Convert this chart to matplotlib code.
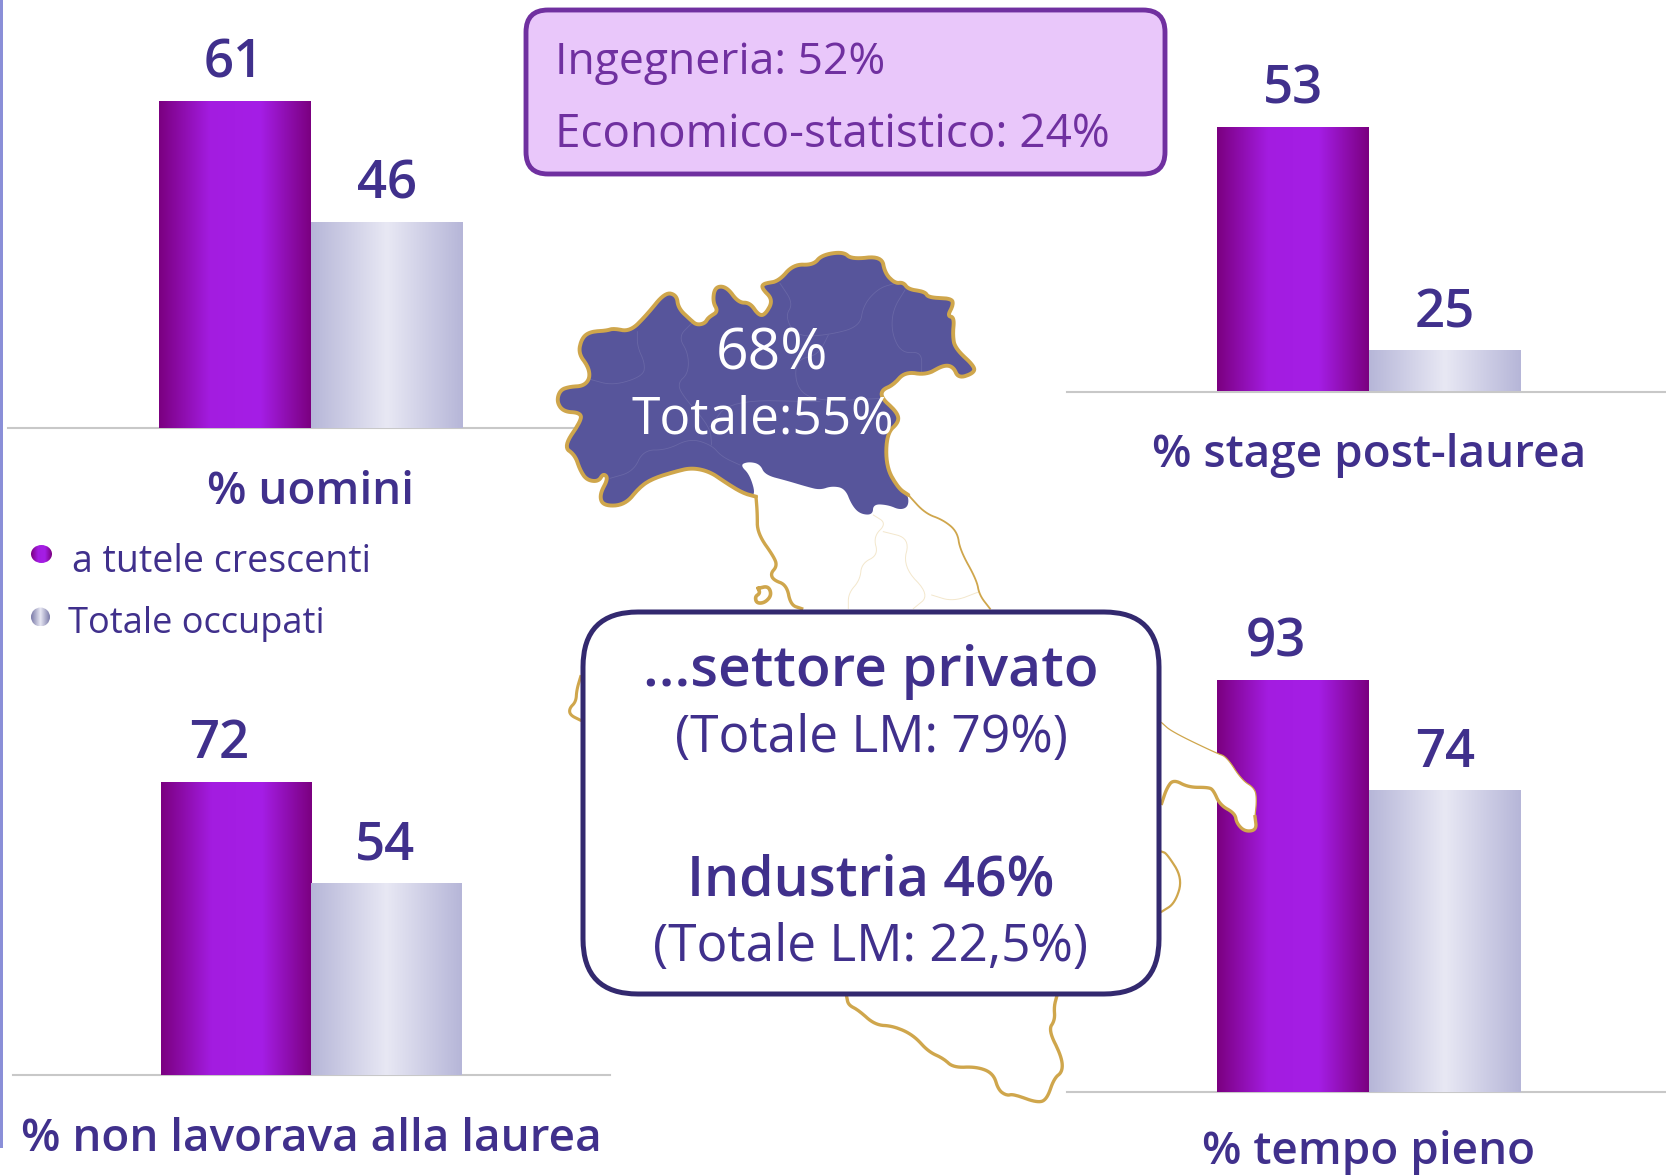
import numpy as np
import matplotlib
matplotlib.use("Agg")
import matplotlib.pyplot as plt
from matplotlib.colors import LinearSegmentedColormap
from matplotlib.patches import FancyBboxPatch, Ellipse, Polygon, Rectangle

plt.rcParams['font.family'] = ['Open Sans', 'DejaVu Sans']

# ---------- data ----------
series_names = ['a tutele crescenti', 'Totale occupati']
panel_titles = ['% uomini', '% stage post-laurea', '% non lavorava alla laurea', '% tempo pieno']
tutele = [61, 53, 72, 93]
totale = [46, 25, 54, 74]
axis_floor = [20.6, 20.0, 20.0, 22.3]
map_main = '68%'
map_total = 'Totale:55%'
fields = ['Ingegneria: 52%', 'Economico-statistico: 24%']
box_lines = ['...settore privato', '(Totale LM: 79%)', 'Industria 46%', '(Totale LM: 22,5%)']

W, H = 1666, 1176
TXT = '#40308C'
cm_purple = LinearSegmentedColormap.from_list('p', ['#7B0080', '#A31CE0', '#A51EE6', '#7B0080'])
cm_grey = LinearSegmentedColormap.from_list('g', ['#B6B6D8', '#E8E8F4', '#B6B6D8'])
cm_grey_dot = LinearSegmentedColormap.from_list('gd', ['#7A7AA8', '#E8E8F4', '#7A7AA8'])
grad = np.linspace(0, 1, 256).reshape(1, -1)

fig = plt.figure(figsize=(W / 100, H / 100), dpi=100, facecolor='white')


def px_axes(x0, ytop, x1, ybot, z=1):
    ax = fig.add_axes([x0 / W, 1 - ybot / H, (x1 - x0) / W, (ybot - ytop) / H], zorder=z)
    ax.patch.set_alpha(0)
    return ax


# panel geometry: baseline extent (x0,x1), top, baseline y, bars left/width, label offsets
layout = [
    (8, 575, 101, 428, 159, 152, (-1, 0), (0, 0)),
    (1067, 1666, 127, 391.5, 1217, 152, (0, 0), (0, 0)),
    (13, 610, 782, 1075, 160.5, 150.5, (-17, 0), (-1, 0)),
    (1067, 1666, 680, 1092, 1217, 152, (-17, 0), (0, 0)),
]
title_pos = [(310, 504), (1369, 467), (311, 1151), (1369, 1164)]

overlay = px_axes(0, 0, W, H, z=3)
overlay.set_xlim(0, W)
overlay.set_ylim(H, 0)
overlay.axis('off')

for i, (x0, x1, yt, yb, bl, bw, off1, off2) in enumerate(layout):
    ax = px_axes(x0, yt, x1, yb)
    c0 = bl + bw / 2
    ax.set_xlim((x0 - c0) / bw, (x1 - c0) / bw)
    ax.set_ylim(axis_floor[i], tutele[i])
    vals = [tutele[i], totale[i]]
    bars = ax.bar([0, 1], vals, width=1.0, bottom=0, color=['#9010B0', '#D0D0E6'], linewidth=0)
    xl, yl = ax.get_xlim(), ax.get_ylim()
    for b, cm in zip(bars, [cm_purple, cm_grey]):
        ax.imshow(grad, cmap=cm, extent=(b.get_x(), b.get_x() + b.get_width(), axis_floor[i], b.get_height()),
                  aspect='auto', zorder=3, interpolation='bilinear')
    ax.set_xlim(xl)
    ax.set_ylim(yl)
    for s in ['top', 'left', 'right']:
        ax.spines[s].set_visible(False)
    ax.spines['bottom'].set_color('#C8C8C8')
    ax.spines['bottom'].set_linewidth(1.5)
    ax.set_xticks([])
    ax.set_yticks([])
    for xx, v, o in zip([0, 1], vals, [off1, off2]):
        ax.annotate(str(v), (xx, v), xytext=(o[0] * 0.72, 23.5 * 0.72), textcoords='offset points',
                    ha='center', va='baseline', color=TXT, fontsize=38, fontweight='semibold', zorder=5)
    overlay.text(title_pos[i][0], title_pos[i][1], panel_titles[i], ha='center', va='baseline',
                 color=TXT, fontsize=33, fontweight='semibold')

# left strip
overlay.add_patch(Rectangle((0, 0), 3, 1148, fc='#8A8FD8', ec='none'))

# ---------- map of Italy (outline) ----------
zx1, zy1 = 520, 230
north_coast_a = [(708,800),(670,790),(620,760),(570,725),(515,713),(465,725),(400,745),(360,770),(315,825),(250,828),
                 (238,795),(265,745),(250,730),(235,755),(200,750),(180,720),(165,675),(130,650),(185,570),(180,548),
                 (130,545),(110,515),(120,480),(150,470),(190,468),(210,445),(205,410),(175,370),(185,325),(210,305),
                 (260,302),(280,295),(330,305),(380,255),(435,187),(470,195),(475,235),(512,270),(530,285),(555,280),
                 (565,262),(595,245),(578,215),(585,170),(620,170),(655,218),(690,218),(715,255),(735,255),(760,210),
                 (725,175),(730,160),(775,155),(820,103),(880,105),(905,75),(970,65),(995,88),(1085,78),(1095,130),
                 (1125,160),(1150,157),(1165,178),(1215,185),(1225,203),(1295,205),(1300,225),(1282,258),(1303,262),
                 (1298,315),(1305,355),(1365,410),(1360,430),(1315,445),(1300,410),(1270,405),(1220,435),(1155,425),
                 (1120,465),(1085,480),(1085,505),(1130,545),(1138,575),(1100,610),(1098,710),(1135,775),(1165,795)]
north_south_edge = [(1165,830),(1140,840),(1105,825),(1060,822),(1058,855),(1020,852),(995,825),(975,775),(935,768),
                    (900,780),(860,770),(800,752),(735,735),(720,702),(685,695),(660,705),(690,735)]
west_coast = [(708,800),(712,850),(712,910),(765,985),(770,1010),(752,1030),(760,1050),(800,1065),(812,1125),(845,1136)]
east_coast = [(1165,795),(1215,850),(1270,870),(1312,905),(1320,960),(1370,1050),(1378,1095),(1410,1136)]
elba = [(715,1075),(745,1068),(755,1095),(735,1118),(710,1120),(705,1100),(720,1090),(715,1075)]
inner_borders = [
    [(210,448),(280,467),(370,438),(375,400),(352,350),(352,305)],
    [(515,280),(475,320),(505,370),(505,430),(472,460),(490,500),(570,590),(575,645)],
    [(270,745),(340,725),(370,660),(440,660),(510,625),(575,645),(605,680),(660,705)],
    [(780,160),(820,220),(795,260),(830,320),(925,315),(1020,290),(1030,225),(1075,175),(1125,160)],
    [(925,315),(895,375),(825,390),(830,480),(900,515),(1085,505)],
    [(1155,180),(1118,240),(1115,310),(1145,370),(1205,365),(1205,425)],
    [(570,590),(630,510),(900,515)],
]
central_borders = [
    [(1060,855),(1100,880),(1060,920),(1075,975),(1025,1000),(1020,1050),(985,1090),(985,1136)],
    [(1090,905),(1170,925),(1148,1010),(1230,1095),(1180,1136)],
    [(1235,1095),(1300,1115),(1378,1085)],
]
zx2, zy2 = 780, 700
garg_thin = [(1145,68),(1175,95),(1310,160),(1340,170),(1385,240),(1425,265),(1430,300),(1425,350)]
garg_thick = [(1425,350),(1430,390),(1395,395),(1370,370),(1365,340),(1320,315),(1300,270),(1285,262),(1225,262),
              (1180,238),(1160,265),(1145,310)]
puglia = [(1145,455),(1160,460),(1208,535),(1185,610),(1145,635)]
calabria = [(200,890),(205,915),(235,930),(285,975),(340,978),(400,1005),(445,1055),(490,1075),(520,1103),(590,1100),
            (640,1120),(655,1170),(680,1187),(700,1182),(770,1208),(800,1200),(822,1135),(848,1115),(845,1070),
            (805,990),(825,960),(822,920),(830,890)]
zx3, zy3 = 540, 660
tirreno = [(122,50),(110,90),(108,125),(88,145),(90,165),(120,180)]
GOLD = '#CFA64C'


def smooth(x, y, n=3, closed=False):
    """Round the corners of a traced outline."""
    p = np.c_[x, y]
    for _ in range(n):
        if closed:
            a, b = p, np.roll(p, -1, axis=0)
            p = np.empty((2 * len(a), 2))
            p[0::2] = 0.75 * a + 0.25 * b
            p[1::2] = 0.25 * a + 0.75 * b
        else:
            a, b = p[:-1], p[1:]
            q = np.empty((2 * len(a), 2))
            q[0::2] = 0.75 * a + 0.25 * b
            q[1::2] = 0.25 * a + 0.75 * b
            p = np.vstack([p[0], q, p[-1]])
    return p[:, 0], p[:, 1]


def z1(p, **k):
    a = np.array(p, float)
    return smooth(a[:, 0] / 3 + zx1, a[:, 1] / 3 + zy1, **k)


def z2(p, **k):
    a = np.array(p, float)
    return smooth(a[:, 0] / 3 + zx2, a[:, 1] / 3 + zy2, **k)


def z3(p, **k):
    a = np.array(p, float)
    return smooth(a[:, 0] / 3 + zx3, a[:, 1] / 3 + zy3, **k)


nx, ny = z1(north_coast_a + north_south_edge, closed=True)
overlay.add_patch(Polygon(np.c_[nx, ny], closed=True, fc='#57559B', ec='none', zorder=2))
for seg in inner_borders:
    overlay.plot(*z1(seg), color='#6967A6', lw=0.6, zorder=2.1)
for seg in central_borders:
    overlay.plot(*z1(seg), color='#F3E7CC', lw=0.7, zorder=2.1)
overlay.plot(*z1(north_coast_a), color=GOLD, lw=2.8, zorder=2.2, solid_joinstyle='round', solid_capstyle='round')
overlay.plot(*z1(west_coast), color=GOLD, lw=2.4, zorder=2.2)
overlay.plot(*z1(east_coast), color=GOLD, lw=1.3, zorder=2.2)
overlay.plot(*z1(elba, closed=False), color=GOLD, lw=2.6, zorder=2.2)
gx, gy = z2(garg_thin + garg_thick)
overlay.add_patch(Polygon(np.c_[gx, gy], closed=True, fc='white', ec='none', zorder=2.15))
overlay.plot(*z2(garg_thin), color=GOLD, lw=0.9, zorder=2.2)
overlay.plot(*z2(garg_thick), color=GOLD, lw=2.4, zorder=2.2)
overlay.plot(*z2(puglia), color=GOLD, lw=1.6, zorder=2.2)
overlay.plot(*z2(calabria), color=GOLD, lw=2.4, zorder=2.2)
overlay.plot(*z3(tirreno), color=GOLD, lw=2.2, zorder=2.2)

overlay.text(772, 369, map_main, color='white', fontsize=41, ha='center', va='baseline', zorder=4)
overlay.text(763, 434, map_total, color='white', fontsize=37, ha='center', va='baseline', zorder=4)

# ---------- boxes ----------
overlay.add_patch(FancyBboxPatch((526 + 22, 10 + 22), 639 - 44, 164 - 44,
                                 boxstyle='round,pad=22,rounding_size=22',
                                 fc='#E9C7FA', ec='#7030A0', lw=3.5, zorder=3))
overlay.text(555, 74, fields[0], color='#7030A0', fontsize=32, va='baseline', zorder=4)
overlay.text(555, 147, fields[1], color='#7030A0', fontsize=33, va='baseline', zorder=4)

overlay.add_patch(FancyBboxPatch((583 + 55, 612 + 55), 576 - 110, 382 - 110,
                                 boxstyle='round,pad=55,rounding_size=55',
                                 fc='white', ec='#33296F', lw=3.6, zorder=3))
for txt, y, wt, fs in zip(box_lines, [686, 752, 895, 961], ['semibold', 'normal', 'semibold', 'normal'],
                          [41, 37, 40, 37]):
    overlay.text(871, y, txt, color=TXT, fontsize=fs, fontweight=wt, ha='center', va='baseline', zorder=4)

# ---------- legend ----------
leg = [(41.5, 554, 21, 18, cm_purple, 72, 571.5, 27), (40.5, 617, 19, 19, cm_grey_dot, 68, 632.5, 26)]
for (cx, cy, w, h, cm, tx, ty, fs), name in zip(leg, series_names):
    e = Ellipse((cx, cy), w, h, fc='none', ec='none', zorder=4)
    overlay.add_patch(e)
    im = overlay.imshow(grad, cmap=cm, extent=(cx - w / 2, cx + w / 2, cy + h / 2, cy - h / 2), aspect='auto',
                        zorder=4, interpolation='bilinear')
    im.set_clip_path(e)
    overlay.text(tx, ty, name, color=TXT, fontsize=fs, va='baseline', zorder=4)
overlay.set_xlim(0, W)
overlay.set_ylim(H, 0)

fig.savefig('out.png', dpi=100)
